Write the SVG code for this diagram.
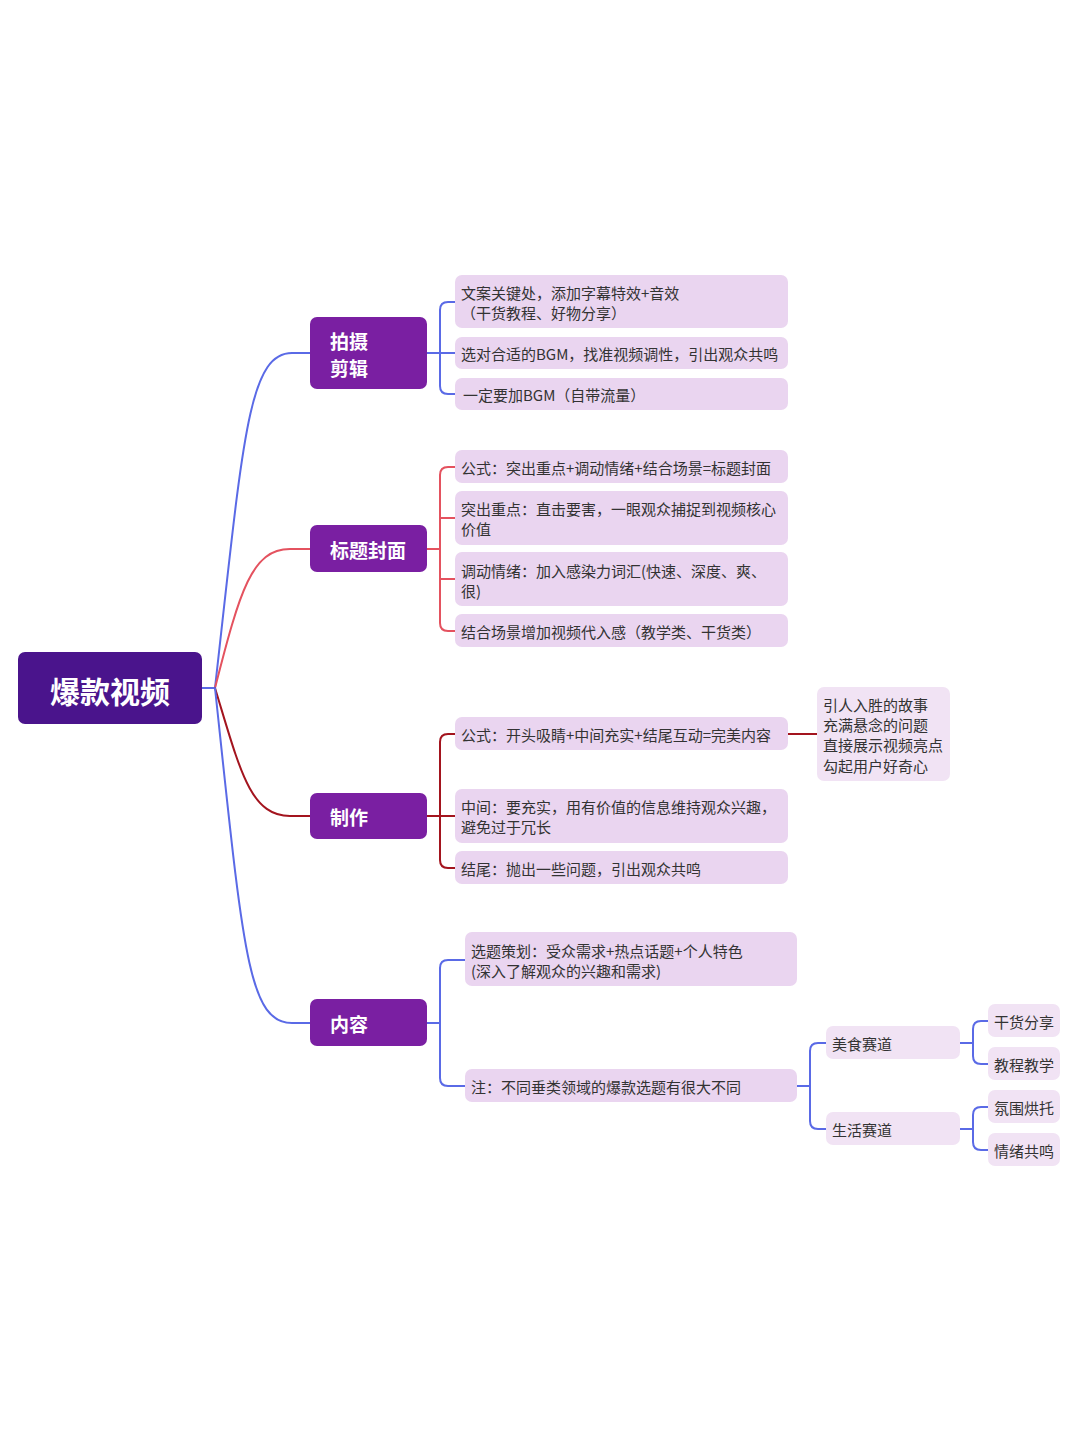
<svg xmlns="http://www.w3.org/2000/svg" width="1080" height="1442" viewBox="0 0 1080 1442">
<style>
.root{fill:#4a148c}
.br{fill:#7a1fa2}
.lf{fill:#ead5f0}
.lf2{fill:#f1e3f4}
.rt{font-family:"Noto Sans CJK SC","Noto Sans",sans-serif;font-weight:bold;fill:#fff;font-size:30px}
.bt{font-family:"Noto Sans CJK SC","Noto Sans",sans-serif;font-weight:bold;fill:#fff;font-size:19px}
.t{font-family:"Noto Sans CJK SC","Noto Sans",sans-serif;fill:#333;font-size:15px}
.c{fill:none;stroke-width:2;stroke-linecap:round;stroke-linejoin:round}
.blue{stroke:#5a6ae6}
.pink{stroke:#e4525f}
.dred{stroke:#a3141e}
</style>
<rect width="1080" height="1442" fill="#fff"/>
<g id="connectors">
<path class="c blue" d="M202,688 L215,688"/>
<path class="c blue" d="M215,688 C243,440 248,353 292,353 L310,353"/>
<path class="c pink" d="M215,688 C240,590 252,549 290,549 L310,549"/>
<path class="c dred" d="M215,688 C240,770 250,816 290,816 L310,816"/>
<path class="c blue" d="M215,688 C243,950 248,1023 292,1023 L310,1023"/>
<!-- 拍摄剪辑 -->
<path class="c blue" d="M427,353 L455,353"/>
<path class="c blue" d="M455,302 L448,302 Q440,302 440,310 L440,386 Q440,394 448,394 L455,394"/>
<!-- 标题封面 -->
<path class="c pink" d="M427,549 L440,549"/>
<path class="c pink" d="M455,467 L448,467 Q440,467 440,475 L440,623 Q440,631 448,631 L455,631"/>
<path class="c pink" d="M440,518 L455,518 M440,579 L455,579"/>
<!-- 制作 -->
<path class="c dred" d="M427,816 L455,816"/>
<path class="c dred" d="M455,734 L448,734 Q440,734 440,742 L440,860 Q440,868 448,868 L455,868"/>
<path class="c dred" d="M788,734 L817,734"/>
<!-- 内容 -->
<path class="c blue" d="M427,1023 L440,1023"/>
<path class="c blue" d="M465,960 L448,960 Q440,960 440,968 L440,1078 Q440,1086 448,1086 L465,1086"/>
<path class="c blue" d="M797,1086 L810,1086"/>
<path class="c blue" d="M826,1043 L818,1043 Q810,1043 810,1051 L810,1121 Q810,1129 818,1129 L826,1129"/>
<path class="c blue" d="M960,1043 L973,1043"/>
<path class="c blue" d="M988,1021 L981,1021 Q973,1021 973,1029 L973,1056 Q973,1064 981,1064 L988,1064"/>
<path class="c blue" d="M960,1129 L973,1129"/>
<path class="c blue" d="M988,1107 L981,1107 Q973,1107 973,1115 L973,1142 Q973,1150 981,1150 L988,1150"/>
</g>
<g id="root">
<rect class="root" x="18" y="652" width="184" height="72" rx="7"/>
<text class="rt" x="110" y="690" text-anchor="middle" dominant-baseline="central">爆款视频</text>
</g>
<g id="b1">
<rect class="br" x="310" y="317" width="117" height="72" rx="7"/>
<text class="bt" x="330" y="340" dominant-baseline="central">拍摄</text>
<text class="bt" x="330" y="367" dominant-baseline="central">剪辑</text>
</g>
<g id="b2">
<rect class="br" x="310" y="525" width="117" height="47" rx="7"/>
<text class="bt" x="330" y="549" dominant-baseline="central">标题封面</text>
</g>
<g id="b3">
<rect class="br" x="310" y="793" width="117" height="46" rx="7"/>
<text class="bt" x="330" y="816" dominant-baseline="central">制作</text>
</g>
<g id="b4">
<rect class="br" x="310" y="999" width="117" height="47" rx="7"/>
<text class="bt" x="330" y="1023" dominant-baseline="central">内容</text>
</g>
<g id="l1-1">
<rect class="lf" x="455" y="275" width="333" height="53" rx="7"/>
<text class="t" x="461" y="292" dominant-baseline="central">文案关键处，添加字幕特效+音效</text>
<text class="t" x="461" y="312" dominant-baseline="central">（干货教程、好物分享）</text>
</g>
<g id="l1-2">
<rect class="lf" x="455" y="337" width="333" height="32" rx="7"/>
<text class="t" x="461" y="353" dominant-baseline="central">选对合适的BGM，找准视频调性，引出观众共鸣</text>
</g>
<g id="l1-3">
<rect class="lf" x="455" y="378" width="333" height="32" rx="7"/>
<text class="t" x="463" y="394" dominant-baseline="central">一定要加BGM（自带流量）</text>
</g>
<g id="l2-1">
<rect class="lf" x="455" y="450" width="333" height="33" rx="7"/>
<text class="t" x="461" y="467" dominant-baseline="central">公式：突出重点+调动情绪+结合场景=标题封面</text>
</g>
<g id="l2-2">
<rect class="lf" x="455" y="491" width="333" height="54" rx="7"/>
<text class="t" x="461" y="508" dominant-baseline="central">突出重点：直击要害，一眼观众捕捉到视频核心</text>
<text class="t" x="461" y="528" dominant-baseline="central">价值</text>
</g>
<g id="l2-3">
<rect class="lf" x="455" y="552" width="333" height="54" rx="7"/>
<text class="t" x="461" y="570" dominant-baseline="central">调动情绪：加入感染力词汇(快速、深度、爽、</text>
<text class="t" x="461" y="590" dominant-baseline="central">很)</text>
</g>
<g id="l2-4">
<rect class="lf" x="455" y="614" width="333" height="33" rx="7"/>
<text class="t" x="461" y="631" dominant-baseline="central">结合场景增加视频代入感（教学类、干货类）</text>
</g>
<g id="l3-1">
<rect class="lf" x="455" y="717" width="333" height="33" rx="7"/>
<text class="t" x="461" y="734" dominant-baseline="central">公式：开头吸睛+中间充实+结尾互动=完美内容</text>
</g>
<g id="l3-1a">
<rect class="lf2" x="817" y="687" width="133" height="94" rx="7"/>
<text class="t" x="823" y="704" dominant-baseline="central">引人入胜的故事</text>
<text class="t" x="823" y="724" dominant-baseline="central">充满悬念的问题</text>
<text class="t" x="823" y="744" dominant-baseline="central">直接展示视频亮点</text>
<text class="t" x="823" y="765" dominant-baseline="central">勾起用户好奇心</text>
</g>
<g id="l3-2">
<rect class="lf" x="455" y="789" width="333" height="54" rx="7"/>
<text class="t" x="461" y="806" dominant-baseline="central">中间：要充实，用有价值的信息维持观众兴趣，</text>
<text class="t" x="461" y="826" dominant-baseline="central">避免过于冗长</text>
</g>
<g id="l3-3">
<rect class="lf" x="455" y="851" width="333" height="33" rx="7"/>
<text class="t" x="461" y="868" dominant-baseline="central">结尾：抛出一些问题，引出观众共鸣</text>
</g>
<g id="l4-1">
<rect class="lf" x="465" y="932" width="332" height="54" rx="7"/>
<text class="t" x="471" y="950" dominant-baseline="central">选题策划：受众需求+热点话题+个人特色</text>
<text class="t" x="471" y="970" dominant-baseline="central">(深入了解观众的兴趣和需求)</text>
</g>
<g id="l4-2">
<rect class="lf" x="465" y="1069" width="332" height="33" rx="7"/>
<text class="t" x="471" y="1086" dominant-baseline="central">注：不同垂类领域的爆款选题有很大不同</text>
</g>
<g id="s1">
<rect class="lf2" x="826" y="1026" width="134" height="33" rx="7"/>
<text class="t" x="832" y="1043" dominant-baseline="central">美食赛道</text>
</g>
<g id="s2">
<rect class="lf2" x="826" y="1112" width="134" height="33" rx="7"/>
<text class="t" x="832" y="1129" dominant-baseline="central">生活赛道</text>
</g>
<g id="s1-1">
<rect class="lf2" x="988" y="1004" width="72" height="33" rx="7"/>
<text class="t" x="994" y="1021" dominant-baseline="central">干货分享</text>
</g>
<g id="s1-2">
<rect class="lf2" x="988" y="1047" width="72" height="33" rx="7"/>
<text class="t" x="994" y="1064" dominant-baseline="central">教程教学</text>
</g>
<g id="s2-1">
<rect class="lf2" x="988" y="1090" width="72" height="33" rx="7"/>
<text class="t" x="994" y="1107" dominant-baseline="central">氛围烘托</text>
</g>
<g id="s2-2">
<rect class="lf2" x="988" y="1133" width="72" height="33" rx="7"/>
<text class="t" x="994" y="1150" dominant-baseline="central">情绪共鸣</text>
</g>
</svg>
